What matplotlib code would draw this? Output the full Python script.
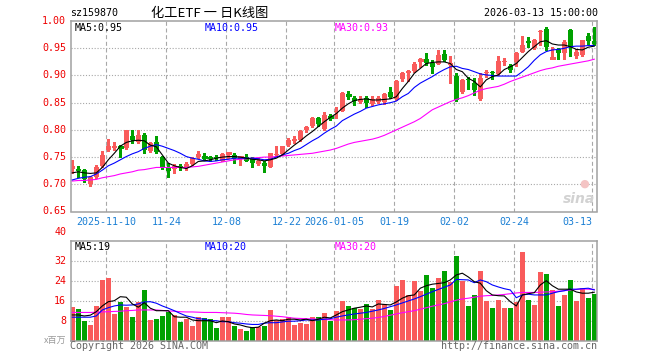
import matplotlib
matplotlib.use("Agg")
import matplotlib.pyplot as plt

# ---- data (price in CNY, volume in millions) ----
tick_dates = ["2025-11-10", "11-24", "12-08", "12-22", "2026-01-05",
              "01-19", "02-02", "02-24", "03-13"]
tick_index = [6, 16, 26, 36, 44, 54, 64, 74, 87]

opens = [0.729, 0.728, 0.726, 0.700, 0.714, 0.734, 0.763, 0.766, 0.769, 0.766,
         0.789, 0.778, 0.791, 0.762, 0.777, 0.750, 0.732, 0.729, 0.734, 0.731,
         0.738, 0.751, 0.751, 0.750, 0.751, 0.743, 0.756, 0.754, 0.749, 0.750,
         0.746, 0.738, 0.740, 0.732, 0.754, 0.755, 0.772, 0.779, 0.782, 0.799,
         0.808, 0.821, 0.801, 0.824, 0.832, 0.835, 0.866, 0.859, 0.851, 0.859,
         0.848, 0.852, 0.852, 0.870, 0.856, 0.893, 0.904, 0.908, 0.928, 0.930,
         0.923, 0.922, 0.939, 0.919, 0.899, 0.870, 0.893, 0.887, 0.857, 0.904,
         0.907, 0.903, 0.924, 0.918, 0.925, 0.944, 0.963, 0.950, 0.980, 0.985,
         0.932, 0.948, 0.941, 0.984, 0.935, 0.938, 0.973, 0.963]
highs = [0.745, 0.733, 0.729, 0.716, 0.735, 0.762, 0.783, 0.777, 0.772, 0.800,
         0.799, 0.799, 0.794, 0.778, 0.789, 0.752, 0.739, 0.738, 0.738, 0.741,
         0.751, 0.762, 0.757, 0.752, 0.754, 0.757, 0.760, 0.758, 0.751, 0.755,
         0.751, 0.748, 0.742, 0.758, 0.770, 0.771, 0.786, 0.788, 0.800, 0.808,
         0.823, 0.823, 0.833, 0.830, 0.843, 0.869, 0.872, 0.862, 0.862, 0.863,
         0.862, 0.862, 0.867, 0.878, 0.891, 0.907, 0.911, 0.925, 0.933, 0.941,
         0.928, 0.946, 0.947, 0.936, 0.905, 0.893, 0.897, 0.895, 0.904, 0.910,
         0.909, 0.936, 0.933, 0.922, 0.944, 0.973, 0.971, 0.968, 0.983, 0.990,
         0.953, 0.950, 0.965, 0.985, 0.948, 0.966, 0.978, 0.989]
lows = [0.720, 0.714, 0.705, 0.697, 0.712, 0.732, 0.761, 0.763, 0.751, 0.765,
        0.775, 0.776, 0.758, 0.760, 0.757, 0.729, 0.714, 0.721, 0.726, 0.726,
        0.735, 0.749, 0.745, 0.742, 0.745, 0.742, 0.748, 0.740, 0.736, 0.742,
        0.732, 0.735, 0.723, 0.731, 0.752, 0.753, 0.770, 0.776, 0.779, 0.797,
        0.805, 0.807, 0.800, 0.818, 0.821, 0.834, 0.857, 0.846, 0.849, 0.843,
        0.846, 0.849, 0.848, 0.858, 0.855, 0.889, 0.889, 0.907, 0.916, 0.919,
        0.904, 0.921, 0.926, 0.886, 0.854, 0.868, 0.876, 0.864, 0.855, 0.898,
        0.893, 0.901, 0.919, 0.907, 0.918, 0.943, 0.952, 0.949, 0.956, 0.946,
        0.931, 0.930, 0.930, 0.935, 0.933, 0.936, 0.958, 0.956]
closes = [0.734, 0.725, 0.710, 0.714, 0.732, 0.754, 0.771, 0.771, 0.768, 0.799,
          0.781, 0.791, 0.763, 0.775, 0.760, 0.732, 0.725, 0.734, 0.730, 0.738,
          0.749, 0.756, 0.750, 0.747, 0.748, 0.756, 0.757, 0.748, 0.750, 0.743,
          0.740, 0.743, 0.734, 0.757, 0.756, 0.770, 0.781, 0.784, 0.798, 0.805,
          0.821, 0.810, 0.827, 0.823, 0.834, 0.867, 0.865, 0.854, 0.856, 0.849,
          0.856, 0.859, 0.866, 0.861, 0.890, 0.904, 0.909, 0.922, 0.929, 0.923,
          0.915, 0.938, 0.929, 0.923, 0.855, 0.892, 0.891, 0.874, 0.895, 0.907,
          0.905, 0.927, 0.926, 0.910, 0.942, 0.956, 0.959, 0.965, 0.982, 0.953,
          0.933, 0.941, 0.962, 0.953, 0.944, 0.965, 0.964, 0.962]

ma5 = [0.721, 0.723, 0.721, 0.720, 0.721, 0.731, 0.745, 0.757, 0.770, 0.777,
       0.780, 0.781, 0.780, 0.772, 0.769, 0.754, 0.739, 0.734, 0.731, 0.729,
       0.734, 0.742, 0.743, 0.745, 0.748, 0.750, 0.751, 0.751, 0.750, 0.748,
       0.746, 0.745, 0.743, 0.745, 0.748, 0.754, 0.763, 0.772, 0.780, 0.789,
       0.797, 0.806, 0.815, 0.823, 0.830, 0.840, 0.848, 0.854, 0.856, 0.857,
       0.855, 0.855, 0.856, 0.857, 0.861, 0.876, 0.889, 0.904, 0.913, 0.922,
       0.924, 0.925, 0.925, 0.922, 0.911, 0.907, 0.895, 0.889, 0.879, 0.892,
       0.898, 0.901, 0.911, 0.916, 0.922, 0.933, 0.944, 0.953, 0.962, 0.964,
       0.958, 0.956, 0.956, 0.953, 0.948, 0.947, 0.952, 0.954]
ma10 = [0.708, 0.711, 0.713, 0.714, 0.719, 0.726, 0.734, 0.739, 0.745, 0.751,
        0.756, 0.760, 0.766, 0.770, 0.773, 0.770, 0.766, 0.762, 0.757, 0.751,
        0.748, 0.746, 0.743, 0.742, 0.743, 0.745, 0.746, 0.748, 0.748, 0.748,
        0.748, 0.747, 0.745, 0.746, 0.750, 0.754, 0.757, 0.762, 0.766, 0.773,
        0.780, 0.786, 0.794, 0.801, 0.807, 0.817, 0.823, 0.829, 0.834, 0.840,
        0.843, 0.846, 0.848, 0.850, 0.853, 0.861, 0.867, 0.878, 0.886, 0.892,
        0.898, 0.905, 0.911, 0.916, 0.917, 0.913, 0.911, 0.907, 0.903, 0.901,
        0.900, 0.899, 0.899, 0.899, 0.899, 0.907, 0.916, 0.928, 0.938, 0.944,
        0.947, 0.948, 0.950, 0.953, 0.954, 0.954, 0.955, 0.955]
ma30 = [0.706, 0.707, 0.707, 0.708, 0.709, 0.712, 0.714, 0.716, 0.719, 0.721,
        0.723, 0.726, 0.727, 0.729, 0.731, 0.731, 0.731, 0.731, 0.731, 0.731,
        0.732, 0.733, 0.735, 0.737, 0.739, 0.741, 0.743, 0.745, 0.746, 0.747,
        0.748, 0.749, 0.750, 0.750, 0.751, 0.752, 0.753, 0.754, 0.755, 0.756,
        0.757, 0.759, 0.761, 0.763, 0.766, 0.770, 0.774, 0.777, 0.779, 0.781,
        0.783, 0.786, 0.790, 0.795, 0.800, 0.805, 0.810, 0.815, 0.821, 0.829,
        0.837, 0.842, 0.847, 0.852, 0.856, 0.859, 0.863, 0.868, 0.873, 0.876,
        0.878, 0.880, 0.884, 0.889, 0.893, 0.897, 0.901, 0.905, 0.909, 0.912,
        0.914, 0.917, 0.919, 0.921, 0.923, 0.925, 0.927, 0.930]

volume = [13.4, 12.5, 7.7, 6.2, 13.9, 24.3, 25.1, 10.7, 15.5, 13.6,
          9.4, 15.5, 20.3, 8.3, 8.6, 9.9, 11.6, 10.3, 7.5, 8.6,
          5.9, 9.4, 9.1, 8.6, 5.1, 9.4, 9.4, 5.9, 4.8, 4.0,
          5.6, 5.6, 5.9, 12.3, 8.3, 8.6, 9.6, 6.2, 7.2, 6.7,
          9.4, 9.4, 11.2, 8.0, 12.0, 16.0, 13.9, 13.0, 12.7, 14.7,
          12.7, 16.3, 14.7, 12.3, 21.9, 24.3, 18.3, 23.9, 19.9, 26.3,
          21.2, 25.2, 27.9, 23.6, 33.9, 23.9, 13.9, 18.3, 27.9, 16.0,
          13.1, 16.3, 13.1, 13.1, 15.6, 35.5, 16.3, 14.3, 27.5, 26.7,
          20.3, 13.9, 18.3, 24.3, 16.0, 21.0, 17.1, 18.8]
vol_ma5 = [10.3, 10.3, 9.9, 10.2, 11.6, 13.9, 15.6, 16.0, 17.6, 17.4,
           14.7, 13.4, 15.2, 13.0, 12.0, 12.0, 12.0, 9.6, 9.4, 9.4,
           8.3, 8.0, 8.0, 8.0, 7.2, 7.9, 7.6, 6.7, 6.3, 5.6,
           5.2, 5.4, 7.0, 8.0, 8.3, 8.0, 8.6, 8.6, 8.3, 8.6,
           8.0, 8.6, 9.4, 9.1, 10.3, 11.6, 12.3, 13.0, 13.4, 13.9,
           13.5, 14.7, 14.5, 14.3, 15.5, 17.0, 18.0, 18.3, 21.0, 22.0,
           22.6, 22.9, 23.2, 24.3, 26.3, 27.0, 25.5, 23.6, 23.0, 20.0,
           18.3, 18.0, 17.9, 15.6, 13.9, 18.3, 18.8, 19.2, 22.3, 24.0,
           22.0, 20.6, 20.6, 20.6, 19.5, 19.0, 19.0, 19.4]
vol_ma10 = [9.4, 9.4, 9.4, 9.4, 9.9, 12.3, 13.2, 13.9, 14.3, 14.2,
            14.3, 14.7, 15.5, 15.6, 15.0, 13.9, 13.0, 12.0, 10.9, 9.9,
            9.4, 8.8, 8.6, 8.0, 8.0, 7.6, 7.6, 7.2, 7.0, 6.7,
            6.5, 6.5, 7.0, 7.2, 7.2, 7.5, 7.8, 7.8, 8.0, 8.3,
            8.3, 8.3, 8.6, 8.8, 9.4, 9.9, 10.3, 10.7, 11.0, 11.3,
            11.8, 12.3, 12.9, 13.6, 14.3, 15.1, 15.9, 16.7, 17.6, 18.6,
            19.6, 20.5, 21.4, 22.3, 24.5, 24.4, 24.3, 23.2, 24.3, 23.6,
            22.3, 21.5, 20.8, 20.3, 17.2, 18.3, 18.6, 18.3, 18.3, 18.3,
            19.0, 19.6, 20.0, 20.6, 20.6, 20.8, 21.0, 20.3]
vol_ma30 = [11.3, 11.3, 11.3, 11.3, 11.4, 11.5, 11.6, 11.7, 11.8, 12.0,
            12.1, 12.3, 12.3, 12.3, 12.3, 12.1, 11.9, 11.8, 11.6, 11.5,
            11.5, 11.4, 11.3, 11.3, 11.3, 11.2, 11.1, 11.0, 10.8, 10.5,
            10.3, 10.2, 10.1, 10.0, 9.8, 9.6, 9.3, 9.0, 8.9, 8.8,
            8.7, 8.6, 8.5, 8.4, 8.3, 8.3, 8.3, 8.4, 8.6, 8.8,
            9.0, 9.3, 9.7, 10.2, 10.7, 11.2, 11.6, 12.0, 12.6, 13.2,
            13.8, 14.3, 14.8, 15.5, 16.2, 16.7, 17.0, 17.4, 17.8, 18.0,
            18.1, 18.3, 18.5, 18.8, 19.1, 19.3, 19.3, 19.3, 19.4, 19.5,
            19.6, 19.8, 20.0, 20.3, 20.5, 20.7, 20.6, 20.5]

W, H = 660, 360
RED = "#F95B5B"
GREEN = "#00A100"
GRID = "#A8A8A8"
FRAME = "#A0A0A0"
MONO = "DejaVu Sans Mono"
CJK = ["Noto Sans CJK SC", "DejaVu Sans"]
X_LEFT = -0.267


def px_box(left, top, right, bottom):
    return [left / W, 1 - bottom / H, (right - left) / W, (bottom - top) / H]


def style_axes(ax, ylo, yhi, ygrid):
    ax.set_xlim(X_LEFT, 87.5)
    ax.set_ylim(ylo, yhi)
    for s in ax.spines.values():
        s.set_color(FRAME)
        s.set_linewidth(1.1)
    for y in ygrid:
        ax.axhline(y, color=GRID, lw=0.8, ls=(0, (1, 1.6)), zorder=0)
    for i in tick_index:
        ax.axvline(i - 1 / 3, color=GRID, lw=0.8, ls=(0, (3.6, 2.4)), zorder=0)
    ax.set_xticks([])
    ax.set_yticks([])


def legend_row(ax, y, labels):
    colors = ["black", "#0000FF", "#FF00FF"]
    for x, lab, col in zip([0.008, 0.255, 0.502], labels, colors):
        ax.text(x, y, lab, transform=ax.transAxes, ha="left", va="center",
                color=col, family=MONO, fontsize=7.2)


def draw_price(ax):
    style_axes(ax, 0.65, 1.00, [0.70, 0.75, 0.80, 0.85, 0.90, 0.95])
    for i, (o, h, l, c) in enumerate(zip(opens, highs, lows, closes)):
        col = RED if c >= o else GREEN
        ax.vlines(i, l, h, color=col, lw=0.8, antialiased=False, zorder=2)
        if abs(c - o) < 0.0015:
            ax.hlines(c, i - 0.4, i + 0.4, color=col, lw=1.0, antialiased=False, zorder=2)
        else:
            ax.bar(i, abs(c - o), 0.8, bottom=min(o, c), color=col, lw=0,
                   antialiased=False, zorder=2)
    x = range(len(closes))
    ax.plot(x, ma30, color="#FF00FF", lw=0.8, zorder=3)
    ax.plot(x, ma10, color="#0000FF", lw=0.8, zorder=3)
    ax.plot(x, ma5, color="black", lw=0.8, zorder=3)

    for y in [0.65, 0.70, 0.75, 0.80, 0.85, 0.90, 0.95, 1.00]:
        ax.text(X_LEFT - 0.75, y, f"{y:.2f}", ha="right", va="center",
                color="#EE0000", family=MONO, fontsize=7.2)
    for i, lab in zip(tick_index, tick_dates):
        ax.text(i - 1 / 3, 0.6405, lab, ha="right" if lab == "03-13" else "center",
                va="top", color="#1A7FD4", family=MONO, fontsize=7.2)

    legend_row(ax, 0.965, ["MA5:0.95", "MA10:0.95", "MA30:0.93"])
    ax.text(0.995, 0.03, "sina", transform=ax.transAxes, ha="right", va="bottom",
            color="#D2D2D2", fontsize=10, fontweight="bold", style="italic")
    ax.text(0.975, 0.12, "\u25CF", transform=ax.transAxes, ha="center", va="bottom",
            color="#F4C4C4", fontsize=8)


def draw_volume(ax):
    style_axes(ax, 0, 40, [8, 16, 24, 32])
    cols = [RED if c >= o else GREEN for o, c in zip(opens, closes)]
    x = range(len(volume))
    ax.bar(x, volume, 0.84, color=cols, lw=0, antialiased=False, zorder=2)
    ax.plot(x, vol_ma30, color="#FF00FF", lw=0.8, zorder=3)
    ax.plot(x, vol_ma10, color="#0000FF", lw=0.8, zorder=3)
    ax.plot(x, vol_ma5, color="black", lw=0.8, zorder=3)

    for v in [8, 16, 24, 32]:
        ax.text(X_LEFT - 0.75, v, str(v), ha="right", va="center",
                color="#EE0000", family=MONO, fontsize=7.2)
    # the top label sits a little above the frame
    ax.text(X_LEFT - 0.75, 43.6, "40", ha="right", va="center",
            color="#EE0000", family=MONO, fontsize=7.2, clip_on=False)
    legend_row(ax, 0.94, ["MA5:19", "MA10:20", "MA30:20"])


def main():
    fig = plt.figure(figsize=(W / 100, H / 100), dpi=100)
    fig.patch.set_facecolor("white")
    ax_price = fig.add_axes(px_box(70.7, 21.1, 597.3, 211.5))
    ax_vol = fig.add_axes(px_box(70.7, 240.7, 597.3, 340.7))
    draw_price(ax_price)
    draw_volume(ax_vol)

    fig.text(70 / W, 1 - 13 / H, "sz159870", ha="left", va="center",
             family=MONO, fontsize=7.2)
    fig.text(210 / W, 1 - 13 / H, "化工ETF 一 日K线图", ha="center", va="center",
             family=CJK, fontsize=9.5)
    fig.text(597.5 / W, 1 - 13 / H, "2026-03-13 15:00:00", ha="right", va="center",
             family=MONO, fontsize=7.2)
    fig.text(66 / W, 1 - 340 / H, "x百万", ha="right", va="center",
             family=CJK, fontsize=6.5, color="#9A9A9A")
    fig.text(70 / W, 1 - 346 / H, "Copyright 2026 SINA.COM", ha="left", va="center",
             family=MONO, fontsize=7.2, color="#666666")
    fig.text(597.5 / W, 1 - 346 / H, "http://finance.sina.com.cn", ha="right", va="center",
             family=MONO, fontsize=7.2, color="#666666")

    fig.savefig("out.png", dpi=100)
    plt.close(fig)


if __name__ == "__main__":
    main()
